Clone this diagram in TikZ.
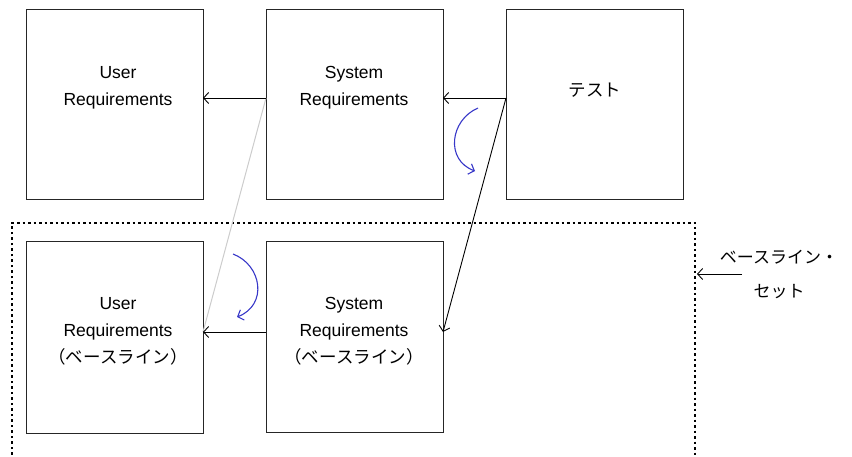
\documentclass[tikz,border=0pt]{standalone}
\usepackage{fontspec}
\setmainfont{Liberation Sans}
\newfontfamily\cjk{Noto Sans CJK JP}
\usetikzlibrary{arrows.meta}
\definecolor{swirlblue}{RGB}{55,55,200}
\begin{document}
\begin{tikzpicture}[x=1pt,y=-1pt,
  box/.style={draw=black!85,line width=1.4pt,minimum width=177pt,minimum height=190pt,inner sep=0pt,anchor=north west},
  txt/.style={align=center,font=\fontsize{17.5}{27}\selectfont,inner sep=0pt},
  conn/.style={line width=0.9pt,-{Straight Barb[length=5pt,width=11pt,line width=0.9pt]}},
  swirl/.style={draw=swirlblue,line width=1.1pt,-{Straight Barb[length=5pt,width=11pt,line width=1.1pt]}}]
\useasboundingbox (0,0) rectangle (852,457);
% dotted baseline set frame
\draw[line width=1.2pt,dash pattern=on 2.5pt off 3pt] (12,460) -- (12,223) -- (695,223) -- (695,460);
% boxes
\node[box] (ur) at (26,9) {};
\node[box] (sr) at (266,9) {};
\node[box] (test) at (506,9) {};
\node[box,minimum height=192pt] (urb) at (26,241) {};
\node[box,minimum height=191pt] (srb) at (266,241) {};
% texts
\node[txt] (urt) at (118,88) {User\\Requirements};
\node[txt] (srt) at (354,88) {System\\Requirements};
\node[txt] (testt) at (595,90) {\cjk テスト};
\node[txt] (urbt) at (118,331) {User\\Requirements\\{\cjk （ベースライン）}};
\node[txt] (srbt) at (354,331) {System\\Requirements\\{\cjk （ベースライン）}};
% connection points
\coordinate (srL) at (266,98);
\coordinate (urR) at (203,98);
\coordinate (testL) at (506,98);
\coordinate (srR) at (443,98);
\coordinate (srbR) at (443,332);
\coordinate (srbL) at (266,332);
\coordinate (urbR) at (203,332);
% connectors
\draw[black!20,line width=1pt] (srL) -- (urbR);
\draw[conn] (srL) -- (urR);
\draw[conn] (testL) -- (srR);
\draw[conn] (testL) -- (srbR);
\draw[conn] (srbL) -- (urbR);
% blue swirls
\draw[swirl] (478,108) .. controls (450,120) and (445,160) .. (475,171);
\draw[swirl] (233,254) .. controls (262,265) and (268,305) .. (237,317);
% baseline set label
\node[txt,font=\fontsize{17}{34}\selectfont\cjk] (bl) at (779,274) {ベースライン・\\セット};
\coordinate (blArrow) at (742,274);
\draw[conn] (blArrow) -- (697,274);
\end{tikzpicture}
\end{document}
